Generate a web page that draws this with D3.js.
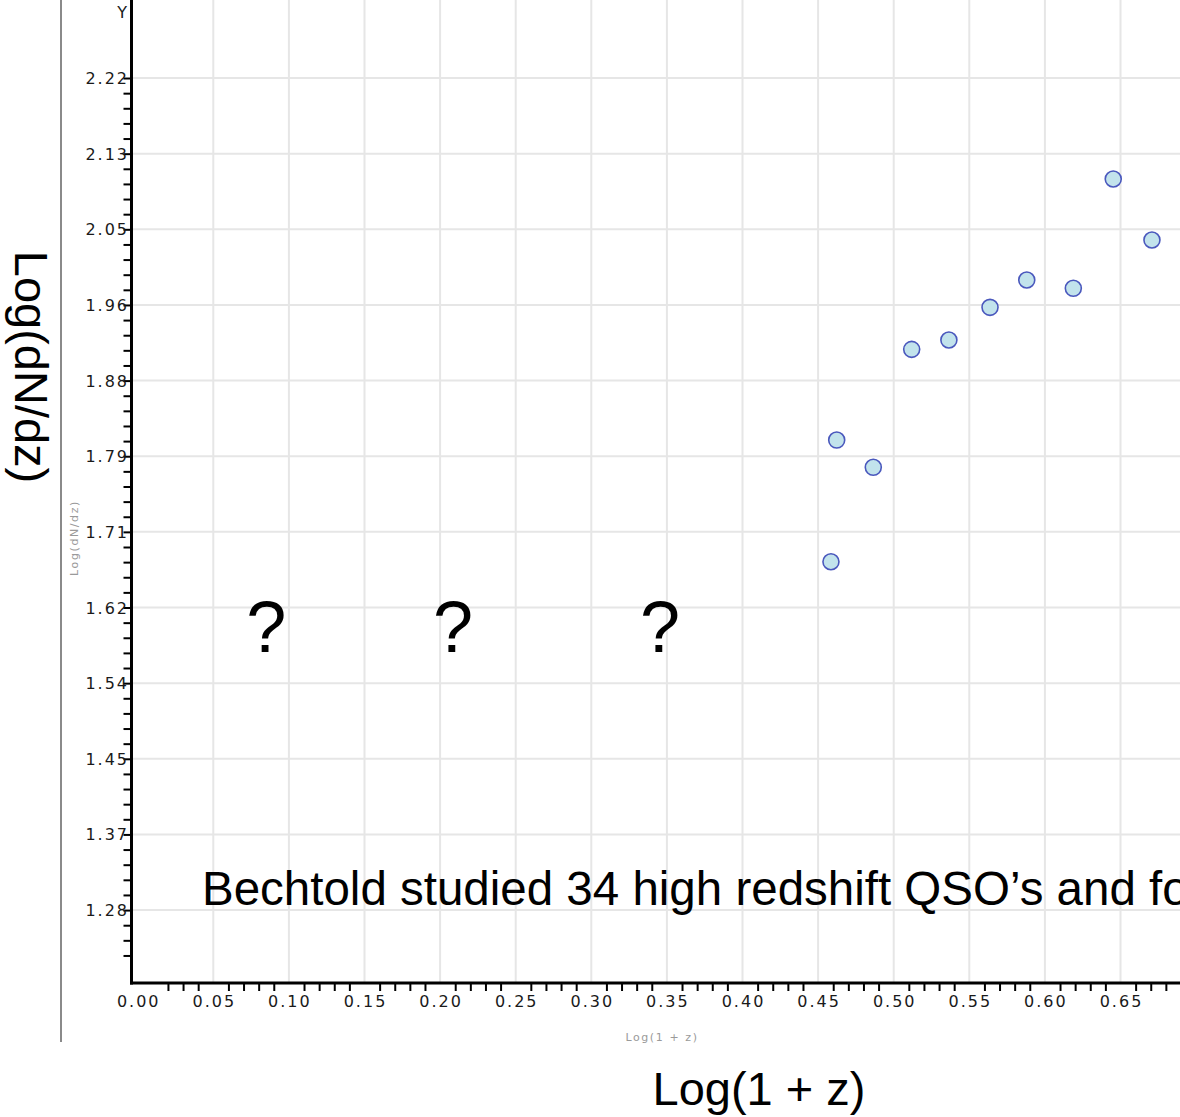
<!DOCTYPE html>
<html>
<head>
<meta charset="utf-8">
<script src="https://cdn.jsdelivr.net/npm/d3@7/dist/d3.min.js"></script>
<style>
  body { margin: 0; background: #fff; }
  .tick-label { font-family: "DejaVu Sans", Verdana, sans-serif; font-size: 16px; letter-spacing: 2px; fill: #1a1a1a; }
  .small-title { font-family: "DejaVu Sans", Verdana, sans-serif; font-size: 11px; letter-spacing: 1.6px; fill: #9a9a9a; }
  .big { font-family: "Liberation Sans", Arial, sans-serif; fill: #000; }
</style>
</head>
<body>
<div id="canvas"></div>
<script>
// points: x = Log(1 + z), y = Log(dN/dz)
const logOnePlusZ = [0.4585, 0.4623, 0.4865, 0.5119, 0.5365, 0.5637, 0.5880, 0.6188, 0.6452, 0.6708];
const logDNdz     = [1.675, 1.8126, 1.7818, 1.9151, 1.9257, 1.9626, 1.9935, 1.9841, 2.1077, 2.0387];

const xTicks = [0.00, 0.05, 0.10, 0.15, 0.20, 0.25, 0.30, 0.35, 0.40, 0.45, 0.50, 0.55, 0.60, 0.65];
const yTicks = [1.2813, 1.3668, 1.4523, 1.5378, 1.6233, 1.7088, 1.7943, 1.8798, 1.9653, 2.0508, 2.1363, 2.2218];
const yTickLabels = ["1.28", "1.37", "1.45", "1.54", "1.62", "1.71", "1.79", "1.88", "1.96", "2.05", "2.13", "2.22"];

// annotations over the chart
const questionX = [0.085, 0.2085, 0.3454];
const questionY = 1.603;
const noteText = "Bechtold studied 34 high redshift QSO\u2019s and found";
const noteX = 0.0425, noteY = 1.305;

const w = 1180, h = 1117;
const svg = d3.select("#canvas").append("svg").attr("width", w).attr("height", h);

const xScale = d3.scaleLinear().domain([0, 0.7]).range([137.7, 1196.1]);
const yScale = d3.scaleLinear().domain([1.2, 2.31]).range([982, 0]);
const axisX = 131.5, axisY = 983;

// gray frame line on the left
svg.append("line").attr("x1", 61).attr("x2", 61).attr("y1", 0).attr("y2", 1042)
   .attr("stroke", "#8a8a8a").attr("stroke-width", 2);

// grid
svg.append("g").selectAll("line").data(xTicks.filter(d => d > 0)).enter().append("line")
   .attr("x1", d => xScale(d)).attr("x2", d => xScale(d))
   .attr("y1", 0).attr("y2", axisY)
   .attr("stroke", "#e6e6e6").attr("stroke-width", 2);
svg.append("g").selectAll("line").data(yTicks).enter().append("line")
   .attr("x1", axisX).attr("x2", w)
   .attr("y1", d => yScale(d)).attr("y2", d => yScale(d))
   .attr("stroke", "#e6e6e6").attr("stroke-width", 2);

// x axis: minor ticks every 0.01, labels every 0.05
const xMinor = d3.range(2, 69).filter(i => i % 5 !== 0).map(i => i / 100);
const xAxis = d3.axisBottom(xScale).tickValues(xMinor).tickSize(8).tickFormat("");
const gx = svg.append("g").attr("transform", "translate(0," + axisY + ")").call(xAxis);
gx.select(".domain").remove();
gx.selectAll(".tick line").attr("stroke", "#000").attr("stroke-width", 2);
svg.append("g").selectAll("text").data(xTicks).enter().append("text")
   .attr("class", "tick-label")
   .attr("x", d => xScale(d) + 1).attr("y", 1007)
   .attr("text-anchor", "middle")
   .text(d => d.toFixed(2));

// y axis: minor ticks, labels at major values
const yMinor = d3.range(-3, 56).map(i => yTicks[0] + i * 0.0171).filter(v => v < 2.28);
const yAxis = d3.axisLeft(yScale).tickValues(yMinor).tickSize(8).tickFormat("");
const gy = svg.append("g").attr("transform", "translate(" + axisX + ",0)").call(yAxis);
gy.select(".domain").remove();
gy.selectAll(".tick line").attr("stroke", "#000").attr("stroke-width", 2);
svg.append("g").selectAll("text").data(yTicks).enter().append("text")
   .attr("class", "tick-label")
   .attr("x", 129).attr("y", d => yScale(d) + 6)
   .attr("text-anchor", "end")
   .text((d, i) => yTickLabels[i]);
svg.append("text").attr("class", "tick-label").attr("x", 129).attr("y", 18)
   .attr("text-anchor", "end").text("Y");

// axis lines
svg.append("line").attr("x1", axisX).attr("x2", axisX).attr("y1", 0).attr("y2", axisY + 1.5)
   .attr("stroke", "#000").attr("stroke-width", 3);
svg.append("line").attr("x1", axisX - 1.5).attr("x2", w).attr("y1", axisY).attr("y2", axisY)
   .attr("stroke", "#000").attr("stroke-width", 3);

// small axis titles
svg.append("text").attr("class", "small-title")
   .attr("x", 662).attr("y", 1041).attr("text-anchor", "middle").text("Log(1 + z)");
svg.append("text").attr("class", "small-title")
   .attr("transform", "translate(78,538) rotate(-90)").attr("text-anchor", "middle").text("Log(dN/dz)");

// points
svg.append("g").selectAll("circle").data(logOnePlusZ).enter().append("circle")
   .attr("cx", d => xScale(d))
   .attr("cy", (d, i) => yScale(logDNdz[i]))
   .attr("r", 8)
   .attr("fill", "#c2e3ec")
   .attr("stroke", "#4a58bd")
   .attr("stroke-width", 1.6);

// large overlay labels
svg.append("text").attr("class", "big").style("font-size", "47px")
   .attr("x", 759).attr("y", 1105).attr("text-anchor", "middle").text("Log(1 + z)");
svg.append("text").attr("class", "big").style("font-size", "47px")
   .attr("transform", "translate(15,367) rotate(90)").attr("text-anchor", "middle").text("Log(dN/dz)");

svg.append("g").selectAll("text").data(questionX).enter().append("text")
   .attr("class", "big").style("font-size", "72px")
   .attr("x", d => xScale(d)).attr("y", yScale(questionY) + 27)
   .attr("text-anchor", "middle").text("?");

svg.append("text").attr("class", "big").style("font-size", "47.5px")
   .attr("x", xScale(noteX)).attr("y", yScale(noteY) + 16)
   .text(noteText);
</script>
</body>
</html>
